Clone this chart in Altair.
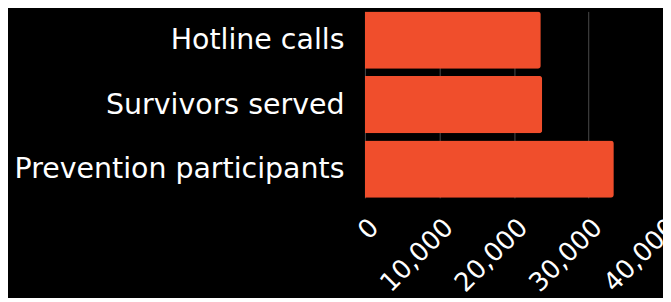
import altair as alt
import pandas as pd

categories = ["Hotline calls", "Survivors served", "Prevention participants"]
values = [23600, 23800, 33400]
x_ticks = [0, 10000, 20000, 30000, 40000]

df = pd.DataFrame({"category": categories, "value": values})

FONT = "DejaVu Sans"

chart = alt.Chart(df).mark_bar(color="#F04E2C", cornerRadiusEnd=3).encode(
    y=alt.Y("category:N", sort=categories, title=None,
            scale=alt.Scale(paddingInner=0.11, paddingOuter=0),
            axis=alt.Axis(domain=False, ticks=False, labelColor="white",
                          labelFontSize=28.5, labelFont=FONT,
                          labelPadding=21, labelLimit=400)),
    x=alt.X("value:Q", title=None,
            scale=alt.Scale(domain=[0, 40000]),
            axis=alt.Axis(values=x_ticks, format=",d", labelAngle=-45,
                          labelColor="white", labelFontSize=26,
                          labelFont=FONT, labelPadding=16,
                          labelOverlap=False, labelBound=False,
                          domain=False, ticks=False, grid=True,
                          gridColor="#4a4a4a", gridWidth=1)),
).properties(
    width=299, height=187, background="black",
    autosize=alt.AutoSizeParams(type="none"),
    padding={"left": 358, "top": 3, "right": 0, "bottom": 100},
).configure_view(stroke=None)

chart.save("out.html", embed_options={"renderer": "svg", "actions": False})
